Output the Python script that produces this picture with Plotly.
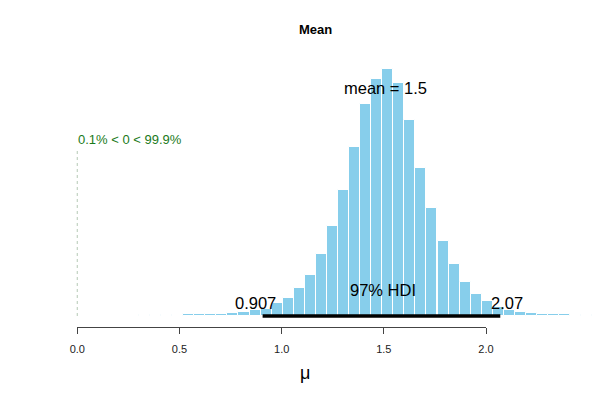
"""Posterior histogram of the mean (BEST style)."""

import plotly.graph_objects as go

# bin centres of the posterior histogram and bar heights (density, arbitrary units)
bin_centers = [0.329, 0.383, 0.437, 0.491, 0.545, 0.599, 0.653, 0.707, 0.762, 0.816,
               0.870, 0.924, 0.978, 1.032, 1.086, 1.140, 1.194, 1.249, 1.303, 1.357,
               1.411, 1.465, 1.519, 1.573, 1.627, 1.681, 1.735, 1.790, 1.844, 1.898,
               1.952, 2.006, 2.060, 2.114, 2.168, 2.222, 2.277, 2.331, 2.385, 2.439,
               2.493, 2.547]
bar_heights = [0.9, 1.1, 1.3, 1.4, 1.6, 1.8, 2.1, 2.5, 3.3, 4.3,
               6.0, 7.5, 12.7, 18, 28.3, 40.7, 62.5, 90.3, 126.3, 169.3,
               212.5, 236.7, 247, 232.7, 196, 148.3, 108.3, 75.3, 51.7, 33.8,
               22.3, 15.3, 9.3, 6.3, 4.3, 3.3, 2.5, 1.9, 1.6, 1.4,
               1.3, 1.2]
bin_width = 0.0541

mean_value = 1.5
hdi_low, hdi_high = 0.907, 2.07
comp_value = 0
pct_below, pct_above = 0.1, 99.9
tick_vals = [0.0, 0.5, 1.0, 1.5, 2.0]
tick_text = ["0.0", "0.5", "1.0", "1.5", "2.0"]

FONT = "Liberation Sans, Arial, Helvetica, sans-serif"
peak = max(bar_heights)

fig = go.Figure()

fig.add_trace(go.Bar(
    x=bin_centers, y=bar_heights, width=bin_width,
    marker=dict(color="#87CEEB", line=dict(color="white", width=1)),
    hoverinfo="skip", showlegend=False,
))

# HDI bar
fig.add_trace(go.Scatter(
    x=[hdi_low, hdi_high], y=[0, 0], mode="lines",
    line=dict(color="black", width=3.5),
    hoverinfo="skip", showlegend=False,
))

# comparison value line
fig.add_trace(go.Scatter(
    x=[comp_value, comp_value], y=[0, peak * 0.68], mode="lines",
    line=dict(color="#b5c9b5", width=1, dash="dot"),
    hoverinfo="skip", showlegend=False,
))

# invisible trace to carry the short bottom axis
fig.add_trace(go.Scatter(
    x=[tick_vals[0], tick_vals[-1]], y=[None, None], xaxis="x2", yaxis="y",
    mode="markers", hoverinfo="skip", showlegend=False,
))

ann_font = dict(family=FONT, size=16.5, color="black")
fig.add_annotation(x=mean_value + 0.006, y=peak * 0.923, text=f"mean = {mean_value:g}",
                   showarrow=False, font=ann_font)
fig.add_annotation(x=1.494, y=peak * 0.105, text="97% HDI",
                   showarrow=False, font=ann_font)
fig.add_annotation(x=hdi_low - 0.034, y=peak * 0.053, text=f"{hdi_low:g}",
                   showarrow=False, font=ann_font)
fig.add_annotation(x=hdi_high + 0.035, y=peak * 0.053, text=f"{hdi_high:g}",
                   showarrow=False, font=ann_font)
fig.add_annotation(x=comp_value, y=peak * 0.713,
                   text=f"{pct_below:g}% < {comp_value} < {pct_above:g}%",
                   showarrow=False, xanchor="left", xshift=-1,
                   font=dict(family=FONT, size=13, color="#1a7a1a"))

fig.add_annotation(x=0.525, y=0.925, xref="paper", yref="paper", text="<b>Mean</b>",
                   showarrow=False, xanchor="center", yanchor="middle",
                   font=dict(family=FONT, size=13, color="black"))
fig.add_annotation(x=0.508, y=0.068, xref="paper", yref="paper", text="μ",
                   showarrow=False, xanchor="center", yanchor="middle",
                   font=dict(family=FONT, size=18, color="black"))

fig.update_layout(
    width=600, height=400,
    margin=dict(l=0, r=0, t=0, b=0, autoexpand=False),
    plot_bgcolor="rgba(0,0,0,0)", paper_bgcolor="white",
    bargap=0,
    xaxis=dict(range=[-0.378, 2.558], visible=False, automargin=False),
    yaxis=dict(range=[-84, 316], visible=False, automargin=False),
    xaxis2=dict(
        domain=[77.3 / 600, 486 / 600], range=[0, 2], anchor="free", position=0.183,
        showline=True, linecolor="#444444", linewidth=1, automargin=False,
        ticks="outside", ticklen=6, tickcolor="#444444", tickwidth=1,
        tickvals=tick_vals, ticktext=tick_text, ticklabelstandoff=6,
        tickfont=dict(family=FONT, size=11, color="#222222"),
        showgrid=False, zeroline=False,
    ),
)

fig.write_html("out.html", config={"displayModeBar": False},
               post_script="document.body.style.margin = '0';")
